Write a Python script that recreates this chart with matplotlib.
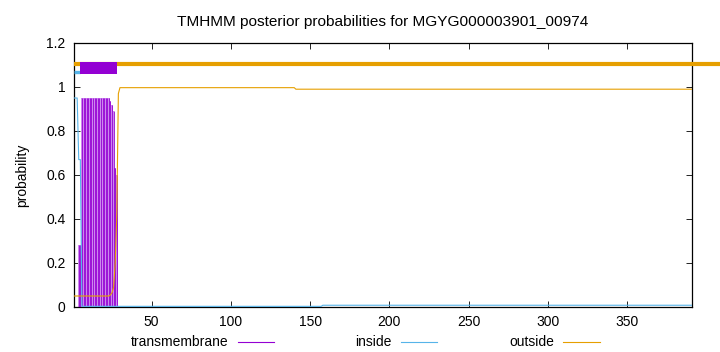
import numpy as np
import matplotlib
matplotlib.use("Agg")
import matplotlib.pyplot as plt
from matplotlib.lines import Line2D

plt.rcParams['font.family'] = ['Liberation Sans', 'DejaVu Sans']

title = "TMHMM posterior probabilities for MGYG000003901_00974"
seq_len = 391

# per-residue values for residues 1..30
tm_head = [0, 0, 0, 0.28, 0.28,
           0.95, 0.95, 0.95, 0.95, 0.95, 0.95, 0.95, 0.95, 0.95, 0.95,
           0.95, 0.95, 0.95, 0.95, 0.95, 0.95, 0.95, 0.95,
           0.935, 0.92, 0.89, 0.63, 0.6, 0, 0]
inside_head = [0.95, 0.95, 0.95, 0.67, 0.67,
               0.003, 0.003, 0.003, 0.003, 0.003, 0.003, 0.003, 0.003, 0.003, 0.003,
               0.003, 0.003, 0.003, 0.003, 0.003, 0.003, 0.003, 0.003,
               0.003, 0.003, 0.003, 0.003, 0.003, 0.003, 0.003]
outside_head = [0.05, 0.05, 0.05, 0.05, 0.05,
                0.05, 0.05, 0.05, 0.05, 0.05, 0.05, 0.05, 0.05, 0.05, 0.05,
                0.05, 0.05, 0.05, 0.05, 0.05, 0.05, 0.05, 0.05,
                0.055, 0.065, 0.09, 0.2, 0.42, 0.97, 0.997]
# tail segments: (last residue, value)
tm_tail = [(391, 0.0)]
inside_tail = [(157, 0.003), (391, 0.008)]
outside_tail = [(140, 0.997), (391, 0.99)]

# predicted topology segments (start, end)
inside_seg = (1, 4.8)
tm_seg = (4.8, 28)
outside_seg = (1, 409)


def expand(head, tail):
    vals = list(head)
    for end, v in tail:
        vals += [v] * (end - len(vals))
    return np.array(vals)


res = np.arange(1, seq_len + 1)
tm = expand(tm_head, tm_tail)
inside = expand(inside_head, inside_tail)
outside = expand(outside_head, outside_tail)

PURPLE = '#9400d3'
BLUE = '#56b4e9'
ORANGE = '#e69f00'

fig = plt.figure(figsize=(7.2, 3.52), dpi=100)
ax = fig.add_axes([74 / 720, 45 / 352, (692 - 74) / 720, (307 - 43) / 352])

# transmembrane impulses
ax.bar(res, tm, width=1.02, color='#cc88ee', linewidth=0, zorder=2)
ax.vlines(res, 0, tm, color=PURPLE, linewidth=0.6, zorder=3)
ax.plot(res, inside, color=BLUE, linewidth=0.8, zorder=4)
ax.plot(res, outside, color=ORANGE, linewidth=0.8, zorder=4)

# topology bars on top
ax.plot(outside_seg, [1.106, 1.106], color=ORANGE, linewidth=3.0,
        solid_capstyle='butt', clip_on=False, zorder=5)
ax.plot(inside_seg, [1.067, 1.067], color=BLUE, linewidth=2.4,
        solid_capstyle='butt', zorder=6)
ax.fill_between(tm_seg, 1.059, 1.112, color=PURPLE, linewidth=0, zorder=7)

ax.set_xlim(1, seq_len)
ax.set_ylim(0, 1.2)
ax.set_xticks([50, 100, 150, 200, 250, 300, 350])
ax.set_yticks([0, 0.2, 0.4, 0.6, 0.8, 1.0, 1.2])
ax.set_yticklabels(['0', '0.2', '0.4', '0.6', '0.8', '1', '1.2'])
ax.tick_params(direction='in', top=True, right=True, length=4, width=0.6,
               labelsize=10, pad=6, colors='#000000')
for s in ax.spines.values():
    s.set_linewidth(0.9)
ax.set_ylabel('probability', fontsize=10, labelpad=12)
ax.set_title(title, fontsize=11.1, pad=12)

# legend below
ly = 1 - 342 / 352
for txt, tx_end, l0, l1, col in [('transmembrane', 228, 238, 274, PURPLE),
                                 ('inside', 392, 401, 437, BLUE),
                                 ('outside', 554, 563, 600, ORANGE)]:
    fig.text(tx_end / 720, ly, txt, ha='right', va='center', fontsize=10)
    fig.add_artist(Line2D([l0 / 720, l1 / 720], [ly, ly], color=col,
                          linewidth=0.8, transform=fig.transFigure))

fig.savefig('out.png', dpi=100)
